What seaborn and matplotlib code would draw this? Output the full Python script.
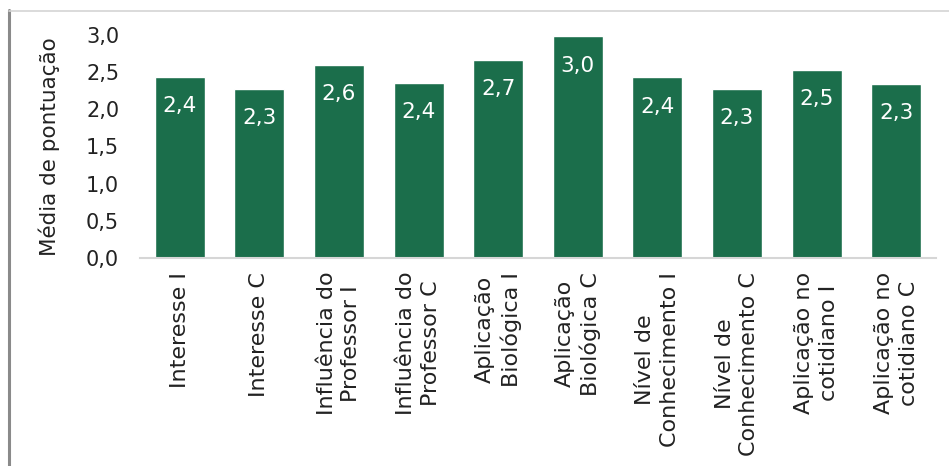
import matplotlib
matplotlib.use("Agg")
import matplotlib.pyplot as plt
import seaborn as sns
import pandas as pd
from matplotlib.lines import Line2D

categories = [
    "Interesse I", "Interesse C",
    "Influência do\nProfessor I", "Influência do\nProfessor C",
    "Aplicação\nBiológica I", "Aplicação\nBiológica C",
    "Nível de\nConhecimento I", "Nível de\nConhecimento C",
    "Aplicação no\ncotidiano I", "Aplicação no\ncotidiano C",
]
values = [2.44, 2.27, 2.60, 2.36, 2.66, 2.98, 2.43, 2.27, 2.53, 2.34]
yticks = [0.0, 0.5, 1.0, 1.5, 2.0, 2.5, 3.0]
ylabel = "Média de pontuação"

sns.set_theme(style="white")
plt.rcParams["font.family"] = ["DejaVu Sans"]

df = pd.DataFrame({"cat": categories, "val": values})

fig = plt.figure(figsize=(9.49, 4.66), dpi=100)
ax = fig.add_axes([0.1475, 0.4464, 0.9863 - 0.1475, 0.9249 - 0.4464])

green = "#1B6E4B"
sns.barplot(data=df, x="cat", y="val", color=green, saturation=1, width=0.63, ax=ax)

ax.set_ylim(0, 3.0)
ax.set_xlim(-0.5, len(categories) - 0.5)
ax.set_yticks(yticks)
ax.set_yticklabels([f"{t:.1f}".replace(".", ",") for t in yticks], fontsize=15, color="#222222")
ax.set_xticks(range(len(categories)))
ax.set_xticklabels(categories, rotation=90, fontsize=16, color="#222222",
                   ha="center", va="top", multialignment="center", linespacing=1.3)
ax.tick_params(axis="y", length=0, pad=15)
ax.tick_params(axis="x", length=0, pad=10)
ax.set_xlabel("")
ax.set_ylabel(ylabel, fontsize=15.5, color="#222222", labelpad=19)

for s in ["top", "right", "left"]:
    ax.spines[s].set_visible(False)
ax.spines["bottom"].set_color("#d6d6d6")
ax.spines["bottom"].set_linewidth(1.5)

for p, v in zip(ax.patches, values):
    ax.annotate(f"{v:.1f}".replace(".", ","),
                (p.get_x() + p.get_width() / 2, p.get_height()),
                xytext=(0, -21), textcoords="offset points",
                ha="center", va="center", color="white", fontsize=15.5)

# outer frame lines of the original screenshot
fig.add_artist(Line2D([9 / 949, 9 / 949], [0, 1 - 10 / 466], transform=fig.transFigure,
                      color="#8a8a8a", lw=2.2))
fig.add_artist(Line2D([9 / 949, 1], [1 - 11 / 466, 1 - 11 / 466], transform=fig.transFigure,
                      color="#d4d4d4", lw=1.2))

fig.savefig("out.png", dpi=100)
